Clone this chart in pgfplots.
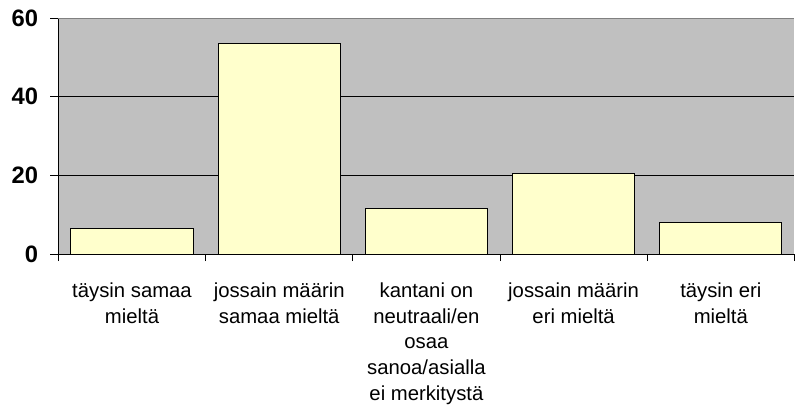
\documentclass[border=0pt]{standalone}
\usepackage{fontspec}
\setmainfont{Liberation Sans}
\usepackage{pgfplots}
\pgfplotsset{compat=1.18}
\definecolor{bg}{RGB}{192,192,192}
\definecolor{barfill}{RGB}{255,255,204}
\begin{document}
\begin{tikzpicture}
\begin{axis}[
  scale only axis, width=743.5pt, height=238.4pt,
  xmin=-0.5, xmax=4.5, ymin=0, ymax=60,
  enlargelimits=false,
  axis lines*=left,
  axis line style={black, line width=1.1pt},
  axis background/.style={fill=bg},
  ytick={0,20,40,60},
  ymajorgrids, major grid style={black, line width=0.9pt},
  xtick={0,...,4},
  xticklabels={{täysin samaa\\mieltä},{jossain määrin\\samaa mieltä},{kantani on\\neutraali/en\\osaa\\sanoa/asialla\\ei merkitystä},{jossain määrin\\eri mieltä},{täysin eri\\mieltä}},
  minor xtick={-0.5,0.5,...,4.5},
  tick align=outside,
  major tick length=8pt, minor tick length=7pt,
  every major x tick/.append style={draw=none},
  tick style={black, line width=1pt},
  xticklabel style={align=center, font=\fontsize{20.5}{26.2}\selectfont, anchor=north, yshift=-17pt},
  yticklabel style={font=\fontsize{24}{28}\selectfont\bfseries, xshift=-9pt},
  /pgf/number format/assume math mode=true,
  ybar, bar width=0.83,
  clip=false,
]
\addplot[fill=barfill, draw=black, line width=1pt] coordinates {(0,6.5) (1,53.5) (2,11.6) (3,20.5) (4,8.0)};
\draw[gray, line width=1.1pt] (rel axis cs:0,1) -- (rel axis cs:1,1);
\end{axis}
\path[use as bounding box] ([xshift=-59pt,yshift=-154.3pt]current axis.south west) rectangle ([xshift=-7.5pt, yshift=18.3pt]current axis.north east);
\end{tikzpicture}
\end{document}
